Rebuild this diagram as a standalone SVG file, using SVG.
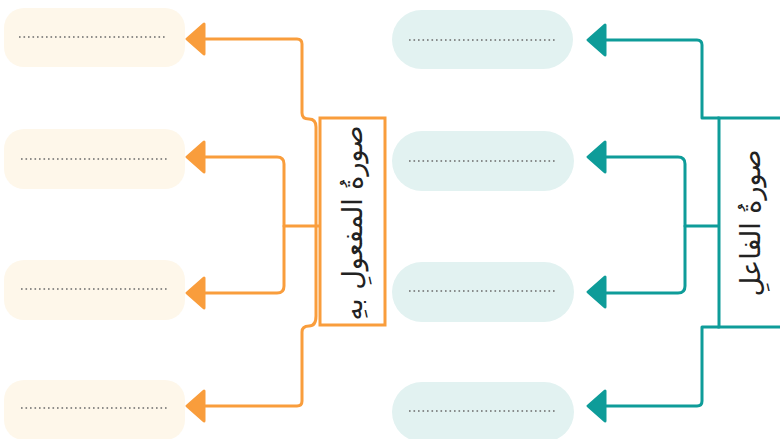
<svg xmlns="http://www.w3.org/2000/svg" width="780" height="439" viewBox="0 0 780 439">
<style>
.po{fill:#FEF7EA}
.pt{fill:#E2F2F1}
.dots{stroke:#6b6b6b;stroke-width:1.6;stroke-dasharray:1.6 2.9;fill:none}
.co{fill:none;stroke:#F99D3C;stroke-width:3;stroke-linejoin:round;stroke-linecap:round}
.ct{fill:none;stroke:#0E9C99;stroke-width:3;stroke-linejoin:round;stroke-linecap:round}
.ao{fill:#F99D3C;stroke:#F99D3C;stroke-width:3;stroke-linejoin:round}
.at{fill:#0E9C99;stroke:#0E9C99;stroke-width:3;stroke-linejoin:round}
.lbl{font-family:"DejaVu Sans","Noto Sans",sans-serif;font-size:27px;fill:#222;text-anchor:middle}
</style>
<rect width="780" height="439" fill="#fff"/>
<g id="orange-answers">
<g id="o1"><rect class="po" x="4" y="8" width="181" height="59" rx="20"/><line class="dots" x1="19" y1="37" x2="166" y2="37"/></g>
<g id="o2"><rect class="po" x="4" y="129" width="181" height="60" rx="20"/><line class="dots" x1="21" y1="159" x2="167" y2="159"/></g>
<g id="o3"><rect class="po" x="4" y="260" width="181" height="60" rx="20"/><line class="dots" x1="21" y1="289" x2="167" y2="289"/></g>
<g id="o4"><rect class="po" x="4" y="380" width="181" height="60" rx="20"/><line class="dots" x1="21" y1="408" x2="167" y2="408"/></g>
</g>
<g id="teal-answers">
<g id="t1"><rect class="pt" x="392" y="10" width="181" height="59" rx="29.5"/><line class="dots" x1="409" y1="40" x2="556" y2="40"/></g>
<g id="t2"><rect class="pt" x="392" y="131" width="182" height="60" rx="30"/><line class="dots" x1="409" y1="161" x2="556" y2="161"/></g>
<g id="t3"><rect class="pt" x="392" y="262" width="182" height="60" rx="30"/><line class="dots" x1="409" y1="291" x2="556" y2="291"/></g>
<g id="t4"><rect class="pt" x="392" y="382" width="182" height="60" rx="30"/><line class="dots" x1="409" y1="411" x2="556" y2="411"/></g>
</g>
<g id="connectors">
<path class="co" d="M205,39 H297 Q302,39 302,44 V113 Q302,119 309,119 Q316,119 316,127 V316 Q316,326 309,326 Q302,326 302,332 V401 Q302,406 297,406 H205"/>
<path class="co" d="M319,226 H284"/>
<path class="co" d="M205,157 H277 Q284,157 284,164 V286 Q284,293 277,293 H205"/>
<polygon class="ao" points="187,39 204,24 204,54"/>
<polygon class="ao" points="187,157 204,142 204,172"/>
<polygon class="ao" points="187,293 204,278 204,308"/>
<polygon class="ao" points="187,406 204,391 204,421"/>
<path class="ct" d="M606,40 H697 Q702,40 702,45 V118 H719"/>
<path class="ct" d="M719,327 H702 V401 Q702,406 697,406 H606"/>
<path class="ct" d="M719,226 H685"/>
<path class="ct" d="M606,157 H678 Q685,157 685,164 V286 Q685,293 678,293 H606"/>
<polygon class="at" points="588,40 605,25 605,55"/>
<polygon class="at" points="588,157 605,142 605,172"/>
<polygon class="at" points="588,292 605,277 605,307"/>
<polygon class="at" points="588,406 605,391 605,421"/>
</g>
<g id="object-box">
<rect x="320" y="118" width="65" height="207" fill="#fff" stroke="#F99D3C" stroke-width="3"/>
<text class="lbl" transform="translate(362,223) rotate(-90)">صورةُ المفعولِ بهِ</text>
</g>
<g id="subject-box">
<rect x="719" y="118" width="80" height="209" fill="#fff" stroke="#0E9C99" stroke-width="3"/>
<text class="lbl" transform="translate(760,223) rotate(-90)">صورةُ الفاعلِ</text>
</g>
</svg>
